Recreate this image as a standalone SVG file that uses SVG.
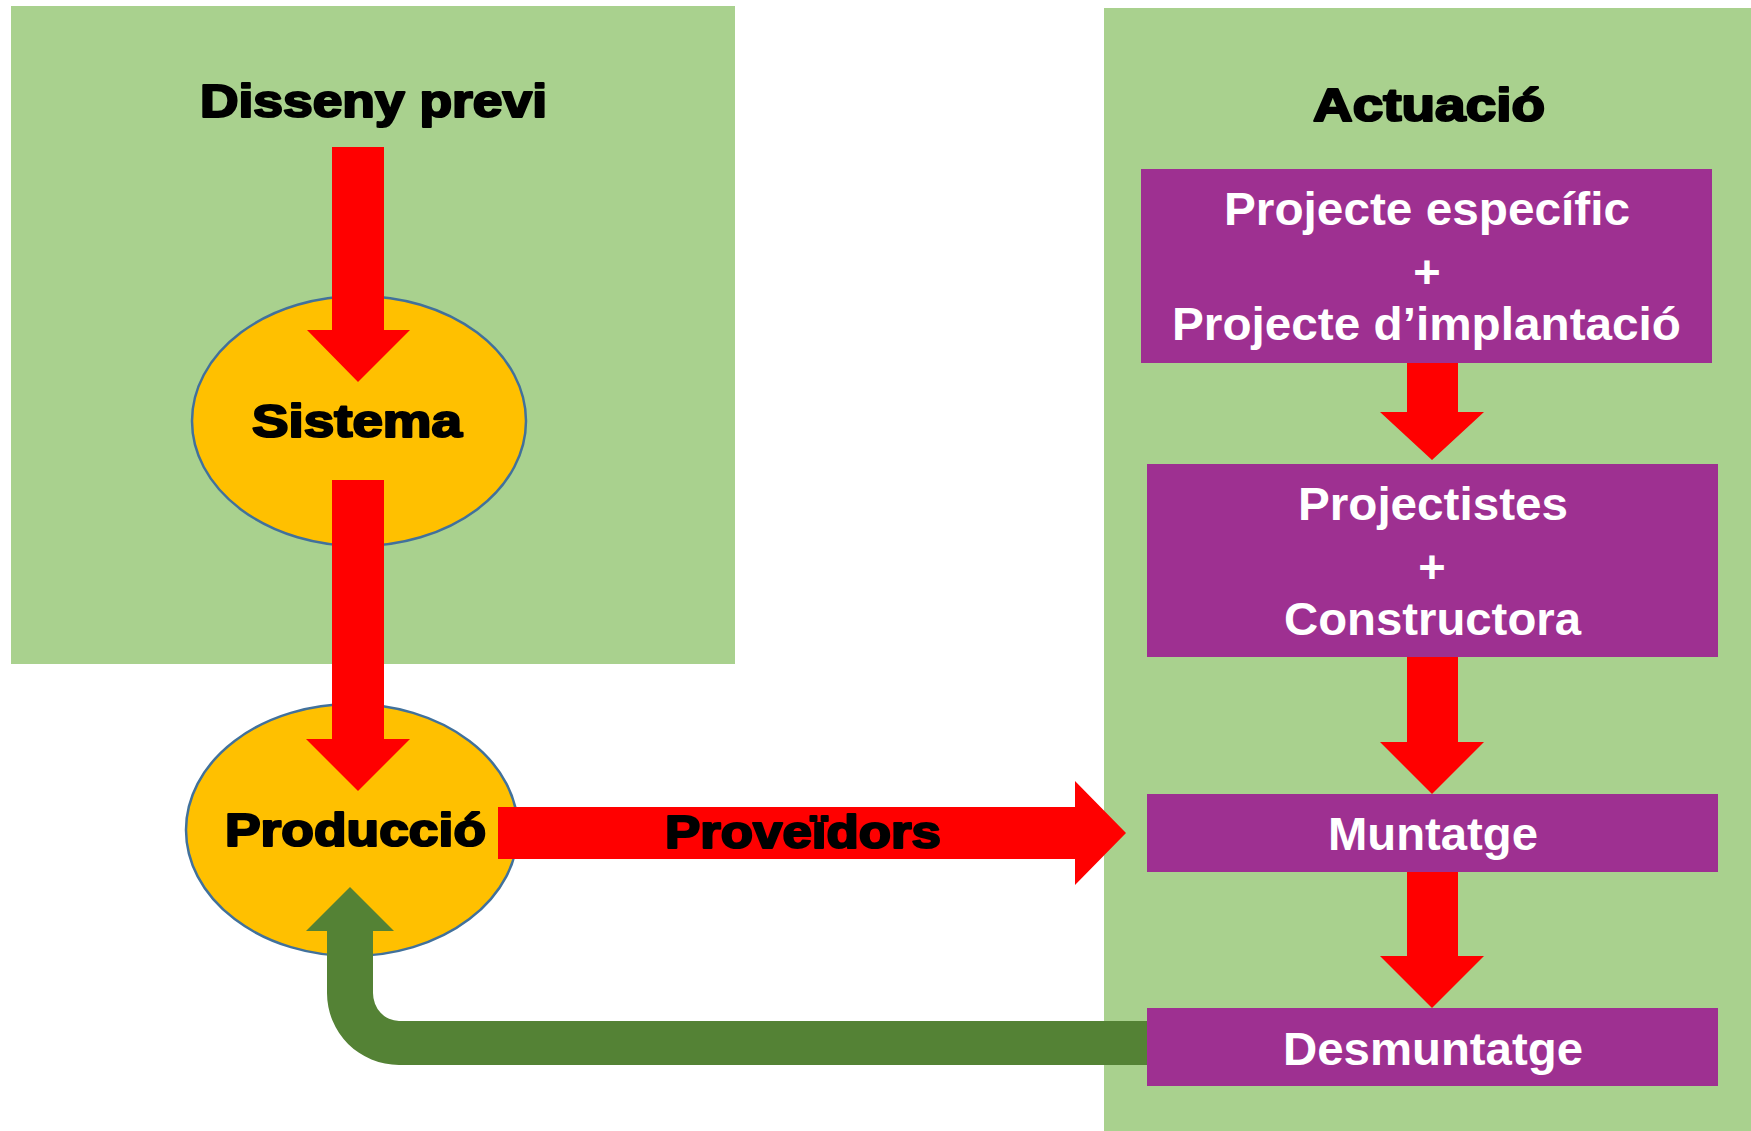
<svg xmlns="http://www.w3.org/2000/svg" width="1751" height="1131" viewBox="0 0 1751 1131">
<style>
.panel{fill:#A9D18E}
.ell{fill:#FFC000;stroke:#41719C;stroke-width:2.5}
.red{fill:#FF0000}
.grn{fill:#548235}
.box{fill:#9E3091}
.blk{font-family:"Liberation Sans",Arial,sans-serif;font-weight:bold;font-size:46px;fill:#000;stroke:#000;stroke-width:2.2;stroke-linejoin:round;text-anchor:middle}
.wht{font-family:"Liberation Sans",Arial,sans-serif;font-weight:bold;font-size:47px;fill:#fff;text-anchor:middle}
</style>
<rect class="panel" x="11" y="6" width="724" height="658"/>
<rect class="panel" x="1104" y="8" width="647" height="1123"/>
<g id="sistema">
<ellipse class="ell" cx="359" cy="421" rx="167" ry="125"/>
</g>
<g id="produccio">
<ellipse class="ell" cx="352" cy="830" rx="166" ry="126"/>
</g>
<g id="connectors">
<polygon class="red" points="332,147 384,147 384,330 410,330 358,382 307,330 332,330"/>
<polygon class="red" points="332,480 384,480 384,739 410,739 358,791 306,739 332,739"/>
<polygon class="red" points="498,807 1075,807 1075,781 1126,833 1075,885 1075,859 498,859"/>
<polygon class="red" points="1407,363 1458,363 1458,412 1484,412 1432,460 1380,412 1407,412"/>
<polygon class="red" points="1407,657 1458,657 1458,742 1484,742 1432,794 1380,742 1407,742"/>
<polygon class="red" points="1407,872 1458,872 1458,956 1484,956 1432,1008 1380,956 1407,956"/>
<path class="grn" d="M1150 1021 L399 1021 A26 28 0 0 1 373 993 L373 931 L394 931 L350 887 L306 931 L327 931 L327 993 A72 72 0 0 0 399 1065 L1150 1065 Z"/>
<text class="blk" x="803" y="848" textLength="276" lengthAdjust="spacingAndGlyphs">Proveïdors</text>
</g>
<g id="disseny">
<text class="blk" x="373.5" y="117" textLength="347" lengthAdjust="spacingAndGlyphs">Disseny previ</text>
</g>
<g id="sistema-label">
<text class="blk" x="357" y="437" textLength="210" lengthAdjust="spacingAndGlyphs">Sistema</text>
</g>
<g id="produccio-label">
<text class="blk" x="355.5" y="846" textLength="261" lengthAdjust="spacingAndGlyphs">Producció</text>
</g>
<g id="actuacio">
<text class="blk" x="1429" y="121" textLength="232" lengthAdjust="spacingAndGlyphs">Actuació</text>
</g>
<g id="projecte">
<rect class="box" x="1141" y="169" width="571" height="194"/>
<text class="wht" x="1427" y="225" textLength="406" lengthAdjust="spacingAndGlyphs">Projecte específic</text>
<text class="wht" x="1427" y="288">+</text>
<text class="wht" x="1426.5" y="340" textLength="509" lengthAdjust="spacingAndGlyphs">Projecte d’implantació</text>
</g>
<g id="projectistes">
<rect class="box" x="1147" y="464" width="571" height="193"/>
<text class="wht" x="1433" y="520" textLength="270" lengthAdjust="spacingAndGlyphs">Projectistes</text>
<text class="wht" x="1432" y="583">+</text>
<text class="wht" x="1432.5" y="635" textLength="297" lengthAdjust="spacingAndGlyphs">Constructora</text>
</g>
<g id="muntatge">
<rect class="box" x="1147" y="794" width="571" height="78"/>
<text class="wht" x="1433" y="850" textLength="210" lengthAdjust="spacingAndGlyphs">Muntatge</text>
</g>
<g id="desmuntatge">
<rect class="box" x="1147" y="1008" width="571" height="78"/>
<text class="wht" x="1433" y="1065" textLength="300" lengthAdjust="spacingAndGlyphs">Desmuntatge</text>
</g>
</svg>
